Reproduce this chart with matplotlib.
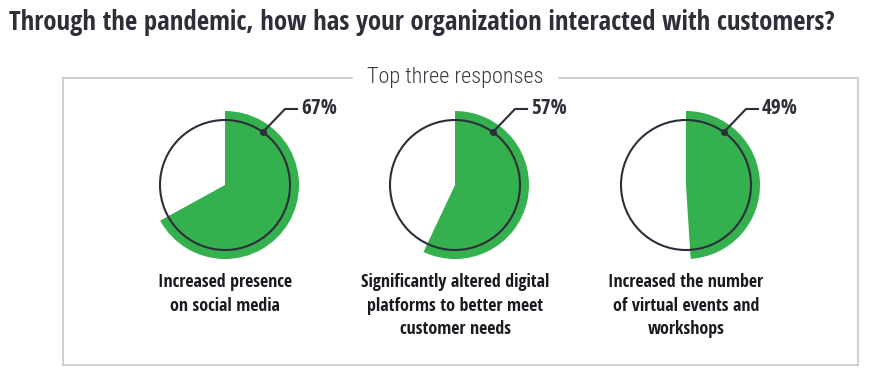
import matplotlib
matplotlib.use("Agg")
import matplotlib.pyplot as plt
from matplotlib.patches import Wedge, Circle
from matplotlib import font_manager

# Data
percentages = [67, 57, 49]
labels = [
    "Increased presence\non social media",
    "Significantly altered digital\nplatforms to better meet\ncustomer needs",
    "Increased the number\nof virtual events and\nworkshops",
]
title = "Through the pandemic, how has your organization interacted with customers?"
subtitle = "Top three responses"

names = {f.name for f in font_manager.fontManager.ttflist}


def pick(cands):
    for c in cands:
        if c in names:
            return c
    return "DejaVu Sans"


narrow = pick(["Open Sans Condensed", "Roboto Condensed", "Barlow Semi Condensed", "Asap Condensed"])
light = pick(["Roboto Condensed", "Barlow Semi Condensed", "Barlow Condensed", "Asap Condensed"])
plt.rcParams['font.family'] = [narrow, 'DejaVu Sans']

GREEN = "#34b04f"
DARK = "#2e2e3a"
W, H = 890, 384

fig = plt.figure(figsize=(8.9, 3.84), dpi=100)
ax = fig.add_axes([0, 0, 1, 1])
ax.set_xlim(0, W)
ax.set_ylim(0, H)
ax.set_aspect('equal')
ax.axis('off')


def py(y):
    # convert pixel y (top-down) to data y
    return H - y


# title
ax.text(9, py(23), title, fontsize=19.3, fontweight='bold', color=DARK,
        ha='left', va='center')

# frame with gap for subtitle
box_l, box_r, box_t, box_b = 63, 858, 78, 365
gray = "#c8c8c8"
ax.plot([box_l, 352], [py(box_t)] * 2, color=gray, lw=1.2)
ax.plot([559, box_r], [py(box_t)] * 2, color=gray, lw=1.2)
ax.plot([box_l, box_l], [py(box_t), py(box_b)], color=gray, lw=1.2)
ax.plot([box_r, box_r], [py(box_t), py(box_b)], color=gray, lw=1.2)
ax.plot([box_l, box_r], [py(box_b)] * 2, color=gray, lw=1.2)
ax.text(455, py(77), subtitle, fontsize=16, fontweight=300, family=[light, 'DejaVu Sans'],
        color="#3a3a44", ha='center', va='center')

centers_x = [225, 455, 686]
cy = py(185)
r_circle = 65
r_green = 74

for cx, pct, lab in zip(centers_x, percentages, labels):
    theta1 = 90 - 360 * pct / 100
    ax.add_patch(Wedge((cx, cy), r_green, theta1, 90, facecolor=GREEN,
                       edgecolor='none'))
    ax.add_patch(Circle((cx, cy), r_circle, facecolor='none', edgecolor=DARK,
                        lw=1.5))
    # callout
    dx, dy = 38, 53
    ax.plot([cx + dx], [cy + dy], 'o', color=DARK, ms=4)
    ax.plot([cx + dx, cx + 60, cx + 72], [cy + dy, cy + 76, cy + 76],
            color=DARK, lw=1.5)
    ax.text(cx + 76, cy + 77, f"{pct}%", fontsize=15.3, fontweight='bold',
            color=DARK, ha='left', va='center')
    ax.text(cx, py(273), lab, fontsize=13, fontweight='bold', color='#1a1a20',
            ha='center', va='top', linespacing=1.4)

fig.savefig("out.png", dpi=100)
